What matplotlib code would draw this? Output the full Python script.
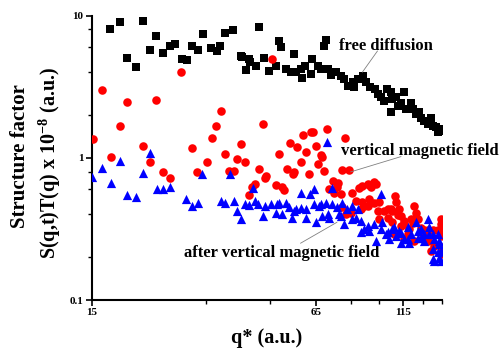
import numpy as np
import matplotlib
matplotlib.use("Agg")
import matplotlib.pyplot as plt
from matplotlib.ticker import FixedLocator, LogLocator, NullFormatter, FixedFormatter

plt.rcParams['font.family'] = ['Liberation Serif', 'DejaVu Serif']
plt.rcParams['font.weight'] = 'bold'
plt.rcParams['mathtext.fontset'] = 'custom'
plt.rcParams['mathtext.rm'] = 'Liberation Serif:bold'
plt.rcParams['mathtext.default'] = 'rm'

# free diffusion (black squares): q*, S
free_q = [16.9, 18.0, 18.9, 20.0, 21.0, 22.0, 22.9, 23.9, 25.0, 25.9, 27.1, 28.0, 29.0, 30.0,
          31.0, 32.8, 34.0, 34.8, 36.0, 37.9, 39.9, 41.1, 42.0, 45.0, 51.0, 51.8, 69.5, 68.5,
          56.5, 40.2, 42.3, 44.1, 46.5, 47.8, 50.0, 53.6, 55.4, 57.0, 58.9, 59.5, 60.6, 62.9,
          63.5, 66.0, 67.2, 70.5, 71.7, 74.2, 76.6, 78.3, 80.1, 82.8, 85.6, 83.7, 88.5, 90.6,
          92.6, 95.8, 97.9, 99.6, 101.8, 104.0, 106.3, 107.5, 106.3, 110.0, 111.1, 113.6,
          116.1, 117.4, 121.3, 122.6, 125.3, 128.1, 129.5, 132.4, 135.4, 138.3, 139.9, 143.0,
          146.2, 147.7, 144.6]
free_s = [8.1, 8.96, 5.0, 4.33, 9.2, 5.72, 7.16, 5.5, 6.15, 6.3, 4.96, 4.9, 6.15, 5.77,
          7.4, 5.95, 5.67, 6.15, 7.6, 7.9, 5.23, 4.17, 4.96, 8.3, 6.6, 6.0, 6.8, 6.1,
          5.4, 5.16, 4.7, 4.45, 5.0, 4.1, 4.45, 4.21, 4.03, 4.0, 4.21, 3.63, 4.45, 3.88,
          4.96, 4.45, 4.21, 4.21, 3.82, 4.0, 3.78, 3.58, 3.18, 3.4, 3.58, 3.13, 3.78, 3.43,
          3.13, 3.05, 2.81, 2.66, 2.52, 3.05, 2.89, 2.59, 2.09, 2.66, 2.32, 2.45,
          2.89, 2.20, 2.45, 2.20, 2.03, 2.09, 1.92, 1.82, 1.73, 1.92, 1.68, 1.64,
          1.55, 1.59, 1.51]

# vertical magnetic field (red circles): (q*, S)
vert_pts = [(15.1, 1.35), (16.0, 3.0), (18.9, 2.46), (18.0, 1.68), (17.0, 1.02), (22.9, 2.56),
            (27.0, 3.99), (21.0, 1.21), (22.0, 0.93), (24.0, 0.79), (25.0, 0.725), (28.9, 1.17),
            (29.9, 0.79), (31.9, 0.94), (32.9, 1.39), (33.9, 1.67), (34.9, 2.13), (35.9, 1.07),
            (36.8, 0.81), (38.0, 0.81), (38.8, 0.98), (39.9, 1.25), (40.9, 0.94), (44.8, 0.84),
            (46.0, 1.72), (46.8, 0.725), (48.9, 4.96), (42.0, 0.55), (43.8, 0.65), (42.8, 0.62),
            (60.0, 1.45), (62.9, 1.51), (64.0, 1.53), (70.0, 1.59), (79.0, 1.37), (55.0, 1.27),
            (57.7, 1.20), (65.0, 1.22), (60.9, 1.10), (51.0, 1.07), (67.2, 1.04), (59.0, 0.93),
            (66.2, 0.91), (67.6, 1.01), (54.0, 0.83), (56.4, 0.79), (56.0, 0.77), (62.2, 0.77),
            (68.8, 0.81), (77.2, 0.82), (80.9, 0.82), (47.1, 0.74), (72.8, 0.69), (75.1, 0.67),
            (95.3, 0.68), (96.4, 0.65), (92.2, 0.64), (50.3, 0.64), (52.2, 0.62), (86.4, 0.61),
            (52.8, 0.59), (91.3, 0.66), (93.3, 0.62), (88.3, 0.635), (82.7, 0.57), (70.9, 0.60),
            (73.3, 0.57), (76.6, 0.56), (109.4, 0.54), (110.2, 0.49), (84.5, 0.50), (88.3, 0.49),
            (91.3, 0.46), (87.3, 0.435), (95.3, 0.48), (97.7, 0.42), (104.1, 0.435), (107.5, 0.42),
            (111.4, 0.395), (104.1, 0.38), (113.6, 0.39), (81.8, 0.41), (79.4, 0.40), (121.3, 0.37),
            (116.1, 0.36), (122.9, 0.35), (129.5, 0.32), (135.3, 0.31), (140.4, 0.31), (148.0, 0.315),
            (147.5, 0.28), (119.9, 0.315), (131.0, 0.29), (135.3, 0.26), (141.3, 0.24), (148.0, 0.235),
            (138.3, 0.22), (123.9, 0.26), (108.7, 0.29), (116.1, 0.27), (107.5, 0.355), (113.6, 0.33),
            (123.9, 0.46), (125.3, 0.41), (126.7, 0.37), (118.7, 0.29), (148.0, 0.21), (147.5, 0.37),
            (98.6, 0.37), (77.4, 0.45), (147.5, 0.34), (144.5, 0.31), (132.3, 0.31), (116.1, 0.34),
            (112.3, 0.44), (106.3, 0.435), (101.8, 0.42), (89.2, 0.46), (98.6, 0.49), (92.2, 0.51),
            (74.9, 0.62)]

# after vertical magnetic field (blue triangles): (q*, S)
after_pts = [(15.0, 0.73), (16.0, 0.85), (17.0, 0.67), (18.0, 0.95), (18.9, 0.55), (20.0, 0.53),
             (21.0, 0.78), (21.9, 1.09), (23.0, 0.60), (24.0, 0.60), (25.0, 0.62), (27.9, 0.51),
             (28.9, 0.46), (30.0, 0.48), (30.9, 0.77), (34.9, 0.50), (36.0, 0.485), (38.0, 0.50),
             (37.0, 0.77), (38.9, 0.42), (39.9, 0.37), (41.0, 0.47), (42.1, 0.465), (43.0, 0.61),
             (43.7, 0.50), (44.7, 0.47), (45.9, 0.39), (46.8, 0.46), (48.4, 0.47), (50.5, 0.47),
             (50.0, 0.41), (51.1, 0.485), (52.2, 0.40), (53.4, 0.485), (54.5, 0.45), (55.8, 0.38),
             (56.4, 0.42), (57.0, 0.435), (58.9, 0.57), (58.9, 0.447), (60.9, 0.435), (60.9, 0.38),
             (62.5, 0.56), (64.1, 0.60), (64.3, 0.47), (65.0, 0.351), (66.4, 0.46), (67.2, 0.473),
             (67.9, 0.39), (69.4, 0.485), (70.5, 0.40), (70.9, 0.38), (72.5, 0.61), (72.5, 0.473),
             (74.9, 0.45), (75.7, 0.40), (76.6, 0.39), (77.4, 0.485), (78.3, 0.34), (79.9, 0.435),
             (82.7, 0.46), (82.7, 0.37), (84.5, 0.38), (85.6, 0.435), (87.3, 0.36), (87.3, 0.30),
             (89.2, 0.315), (91.3, 0.332), (92.2, 0.306), (95.3, 0.341), (96.4, 0.261), (99.6, 0.56),
             (99.6, 0.315), (100.7, 0.351), (102.9, 0.29), (104.1, 0.30), (105.2, 0.268), (107.5, 0.315),
             (108.7, 0.324), (109.9, 0.282), (112.3, 0.306), (113.6, 0.298), (113.6, 0.25), (116.1, 0.268),
             (118.7, 0.324), (118.7, 0.268), (119.9, 0.25), (121.3, 0.29), (125.3, 0.351), (126.7, 0.306),
             (126.7, 0.271), (129.5, 0.271), (129.5, 0.315), (132.3, 0.29), (132.3, 0.261), (135.3, 0.37),
             (136.8, 0.324), (136.8, 0.29), (139.9, 0.29), (141.3, 0.268), (144.5, 0.29), (146.2, 0.261),
             (146.2, 0.247), (139.9, 0.228), (144.5, 0.216), (139.9, 0.193), (146.2, 0.198), (147.7, 0.188),
             (141.3, 0.188), (148.0, 0.222), (70.0, 1.30)]

x_major = [15, 65, 115]
x_minor = [15 + 50 * k / 3 for k in range(9)]

vert_q, vert_s = np.array(vert_pts).T
after_q, after_s = np.array(after_pts).T

fig = plt.figure(figsize=(4.99, 3.52), dpi=100)
ax = fig.add_axes([0.1838, 0.1477, 0.7014, 0.8077])

ax.scatter(free_q, free_s, s=26, marker='s', c='black', linewidths=0, zorder=3)
ax.scatter(vert_q, vert_s, s=38, marker='o', c='#ff0000', linewidths=0, zorder=4)
ax.scatter(after_q, after_s, s=44, marker='^', c='#0000ff', linewidths=0, zorder=5)

ax.set_xscale('log')
ax.set_yscale('log')
ax.set_xlim(15, 148.4)
ax.set_ylim(0.1, 10)

ax.xaxis.set_major_locator(FixedLocator(x_major))
ax.xaxis.set_major_formatter(FixedFormatter([str(v) for v in x_major]))
ax.xaxis.set_minor_locator(FixedLocator(x_minor))
ax.xaxis.set_minor_formatter(NullFormatter())
ax.yaxis.set_major_locator(FixedLocator([0.1, 1, 10]))
ax.yaxis.set_major_formatter(FixedFormatter(['0.1', '1', '10']))
ax.yaxis.set_minor_locator(LogLocator(base=10, subs=(2, 4, 6, 8)))
ax.yaxis.set_minor_formatter(NullFormatter())

for side in ['top', 'right']:
    ax.spines[side].set_visible(False)
for side in ['left', 'bottom']:
    ax.spines[side].set_linewidth(1.5)
ax.tick_params(which='major', direction='out', length=4, width=1.2, labelsize=8, pad=2)
ax.tick_params(which='minor', direction='out', length=3, width=1.0)

ax.set_xlabel('q* (a.u.)', fontsize=14.5, fontweight='bold', labelpad=8)
fig.text(0.04, 0.557, 'Structure factor', rotation=90, fontsize=15, fontweight='bold',
         ha='center', va='center')
fig.text(0.10, 0.537, r'S(q,t)T(q) x 10$^{-8}$ (a.u.)', rotation=90, fontsize=14.5,
         fontweight='bold', ha='center', va='center')

# labels with thin leader lines
ax.text(75.6, 6.1, 'free diffusion', fontsize=12, fontweight='bold', ha='left', va='center')
ax.plot([97.4, 88.3], [5.64, 4.01], color='gray', lw=0.6, zorder=6)
ax.text(76.6, 1.115, 'vertical magnetic field', fontsize=12, fontweight='bold', ha='left', va='center')
ax.plot([113.6, 81.8], [1.02, 0.797], color='gray', lw=0.6, zorder=6)
ax.text(27.4, 0.213, 'after vertical magnetic field', fontsize=12, fontweight='bold', ha='left', va='center')
ax.plot([58.9, 74.7], [0.251, 0.352], color='gray', lw=0.6, zorder=6)

fig.savefig('out.png', dpi=100)
